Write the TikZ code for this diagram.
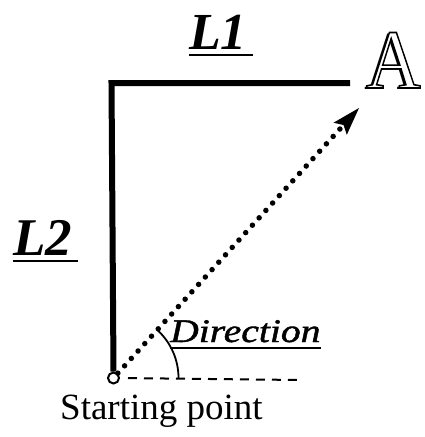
\documentclass[tikz,border=0pt]{standalone}
\usepackage{fontspec}
\setmainfont{Liberation Serif}
\usetikzlibrary{arrows.meta}
\newcommand\engravedletter[1]{%
  \rlap{\kern-2.4pt\raisebox{-1.6pt}{#1}}%
  \special{pdf:literal direct 1 g 0 G 2 Tr 1.6 w}#1\special{pdf:literal direct 0 Tr 0 g 0 G}}
\begin{document}
\begin{tikzpicture}[x=1pt,y=-1pt,
  thickline/.style={line width=6pt, line join=miter},
  dotline/.style={line width=5.5pt, line cap=round, dash pattern=on 0pt off 10pt},
  dashline/.style={line width=2pt, dash pattern=on 9pt off 7pt},
  underl/.style={line width=2.2pt},
  lbl/.style={inner sep=0pt, anchor=base west},
  startdot/.style={circle, draw, line width=2pt, fill=white, minimum size=11pt, inner sep=0pt}]
\useasboundingbox (0,0) rectangle (425,437);
% geometry
\coordinate (corner) at (111.5,83);
\coordinate (l1end) at (350,83);
\coordinate (tip) at (359,108);
\coordinate (hb1) at (346.8,134.8);
\coordinate (hin) at (343.5,125.0);
\coordinate (hb2) at (333.5,122.7);
\coordinate (dashend) at (300,380);
\node[startdot] (s) at (113.5,378) {};
% lines
\draw[thickline] (l1end) -- (corner) -- (s.north);
\draw[dotline, shorten >=25pt] (s) -- (tip);
\fill[line join=miter] (tip) -- (hb1) -- (hin) -- (hb2) -- cycle;
\draw[dashline, shorten <=8pt] (s.east) -- (dashend);
\draw[line width=1.8pt] (s.center) ++(65,0) arc[start angle=0, end angle=-47, radius=65];
% labels
\node[lbl, font=\fontsize{52}{52}\selectfont\bfseries\itshape] (l1) at (189,49) {L1};
\draw[underl] ([yshift=-6pt]l1.base west) -- ([yshift=-6pt,xshift=6pt]l1.base east);
\node[lbl, font=\fontsize{53}{53}\selectfont\bfseries\itshape] (l2) at (13,255) {L2};
\draw[underl] ([yshift=-6pt]l2.base west) -- ([yshift=-6pt,xshift=6pt]l2.base east);
\node[lbl, font=\fontsize{33}{33}\selectfont\itshape\addfontfeature{FakeBold=1.2}] (dir) at (170,342) {\scalebox{1.2}[1]{Direction}};
\draw[line width=1.6pt] ([yshift=-6pt]dir.base west) -- ([yshift=-6pt]dir.base east);
\node[lbl, font=\fontsize{37}{37}\selectfont] (sp) at (60,419) {Starting point};
\node[lbl, font=\fontsize{84}{84}\selectfont] (A) at (366,88) {\scalebox{0.9}[1]{\engravedletter{A}}};
\end{tikzpicture}
\end{document}
